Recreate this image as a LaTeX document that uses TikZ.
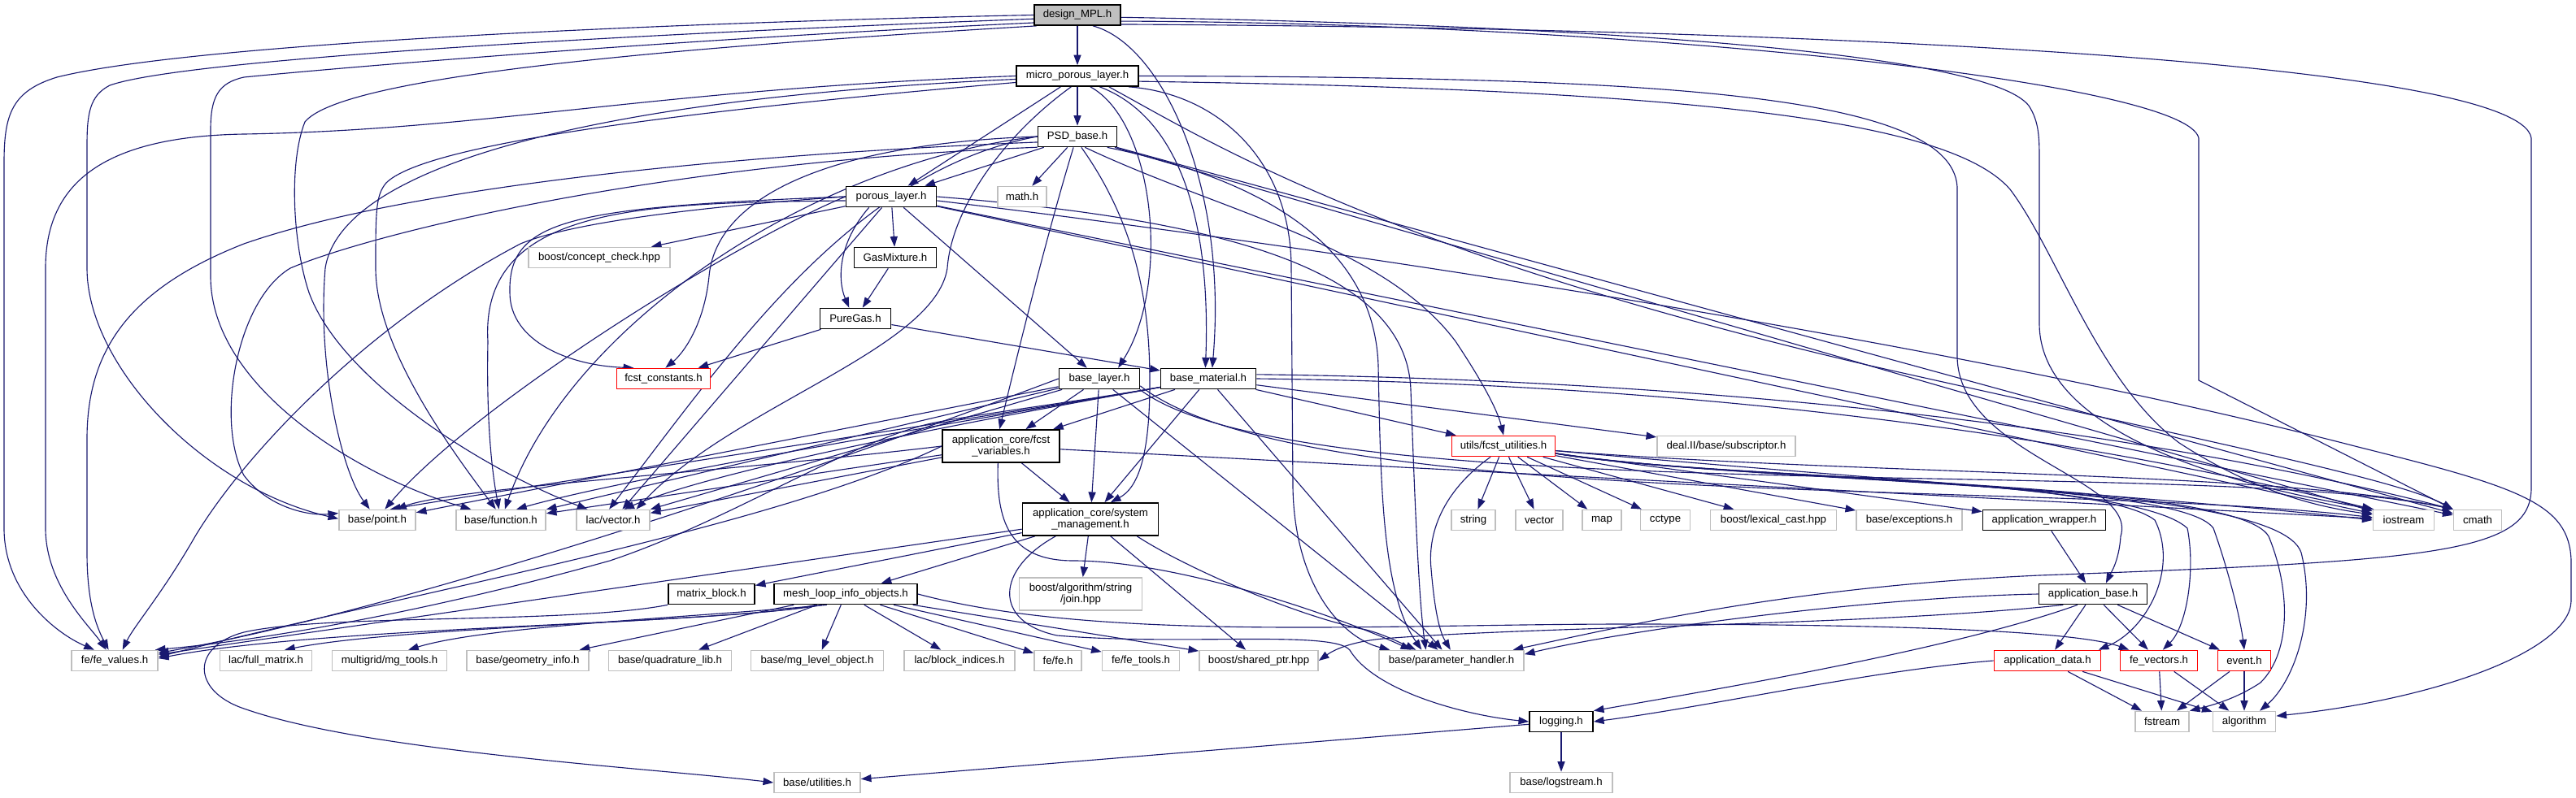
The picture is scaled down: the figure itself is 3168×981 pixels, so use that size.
\documentclass[tikz,border=0pt]{standalone}
\usepackage{fontspec}
\setmainfont{Liberation Sans}
\usetikzlibrary{arrows.meta}
\definecolor{edgec}{HTML}{191970}
\definecolor{grayb}{HTML}{BFBFBF}
\definecolor{redb}{HTML}{FF0000}
\pgfdeclarelayer{bglayer}
\pgfdeclarelayer{edgelayer}
\pgfsetlayers{bglayer,edgelayer,main}
\begin{document}
\begin{tikzpicture}[x=0.025cm,y=-0.025cm,
  box/.style={draw, line width=1.2pt, fill=white, inner sep=0pt, minimum height=0.625cm, font=\fontsize{9.4}{10.5}\selectfont, align=center},
  nb/.style={box, draw=black},
  ng/.style={box, draw=grayb},
  nr/.style={box, draw=redb},
  wd/.style={minimum width=#1*0.025cm},
  tall/.style={minimum height=1cm},
  edg/.style={draw=edgec, line width=0.8pt, -{Triangle[length=9pt,width=6.5pt]}},
]
\useasboundingbox (0,0) rectangle (3168,981);
\begin{pgfonlayer}{bglayer}
\fill[white] (0,0) rectangle (3168,981);
\end{pgfonlayer}

% ---------- nodes ----------
\node[nb,fill=grayb,wd=106] (dm) at (1325,18.5) {design\_MPL.h};
\node[nb,wd=150] (mpl) at (1325,93.5) {micro\_porous\_layer.h};
\node[nb,wd=97] (psd) at (1325,168) {PSD\_base.h};
\node[nb,wd=111] (pl) at (1096,242) {porous\_layer.h};
\node[ng,wd=60] (mathh) at (1257,242) {math.h};
\node[ng,wd=174] (cc) at (737,317) {boost/concept\_check.hpp};
\node[nb,wd=101] (gm) at (1101,317) {GasMixture.h};
\node[nb,wd=87] (pg) at (1052,392) {PureGas.h};
\node[nr,wd=115] (fc) at (816,466) {fcst\_constants.h};
\node[nb,wd=99] (bl) at (1352,466) {base\_layer.h};
\node[nb,wd=117] (bm) at (1486,466) {base\_material.h};
\node[nb,wd=144,tall] (fv) at (1231,549) {application\_core/fcst\\\_variables.h};
\node[nr,wd=127] (fu) at (1849,549) {utils/fcst\_utilities.h};
\node[ng,wd=170] (sub) at (2123,549) {deal.II/base/subscriptor.h};
\node[ng,wd=94] (pnt) at (464,640) {base/point.h};
\node[ng,wd=110] (fn) at (616,640) {base/function.h};
\node[ng,wd=90] (vec) at (754,640) {lac/vector.h};
\node[nb,wd=167,tall] (sm) at (1341,639) {application\_core/system\\\_management.h};
\node[ng,wd=54] (str) at (1812,640) {string};
\node[ng,wd=58] (vct) at (1893,640) {vector};
\node[ng,wd=48] (mapn) at (1970,640) {map};
\node[ng,wd=61] (cct) at (2048,640) {cctype};
\node[ng,wd=155] (lex) at (2181,640) {boost/lexical\_cast.hpp};
\node[ng,wd=130] (exc) at (2348,640) {base/exceptions.h};
\node[nb,wd=151] (aw) at (2514,640) {application\_wrapper.h};
\node[ng,wd=75] (ios) at (2956,640) {iostream};
\node[ng,wd=59] (cmathn) at (3047,640) {cmath};
\node[nb,wd=106] (mb) at (875,731) {matrix\_block.h};
\node[nb,wd=176] (ml) at (1040,731) {mesh\_loop\_info\_objects.h};
\node[ng,wd=151,tall] (join) at (1329,731) {boost/algorithm/string\\/join.hpp};
\node[nb,wd=133] (ab) at (2574,731) {application\_base.h};
\node[ng,wd=106] (fev) at (141,813) {fe/fe\_values.h};
\node[ng,wd=113] (fm) at (327,813) {lac/full\_matrix.h};
\node[ng,wd=141] (mgt) at (479,813) {multigrid/mg\_tools.h};
\node[ng,wd=150] (geo) at (649,813) {base/geometry\_info.h};
\node[ng,wd=151] (quad) at (824,813) {base/quadrature\_lib.h};
\node[ng,wd=163] (mgl) at (1005,813) {base/mg\_level\_object.h};
\node[ng,wd=136] (bi) at (1180,813) {lac/block\_indices.h};
\node[ng,wd=58] (fe) at (1301,813) {fe/fe.h};
\node[ng,wd=95] (fet) at (1403,813) {fe/fe\_tools.h};
\node[ng,wd=146] (sp) at (1548,813) {boost/shared\_ptr.hpp};
\node[ng,wd=178] (ph) at (1785,813) {base/parameter\_handler.h};
\node[nr,wd=131] (ad) at (2518,813) {application\_data.h};
\node[nr,wd=95] (fvec) at (2655,813) {fe\_vectors.h};
\node[nr,wd=65] (ev) at (2760,813) {event.h};
\node[nb,wd=78] (logg) at (1920,888) {logging.h};
\node[ng,wd=66] (fs) at (2659,888) {fstream};
\node[ng,wd=77] (alg) at (2760,888) {algorithm};
\node[ng,wd=106] (ut) at (1005,963) {base/utilities.h};
\node[ng,wd=126] (ls) at (1920,963) {base/logstream.h};

% ---------- edges ----------
\begin{pgfonlayer}{edgelayer}
% design_MPL.h
\draw[edg] (dm) -- (mpl);
\draw[edg] (dm.-35) .. controls (1430,55) and (1510,230) .. (bm.70);
\draw[edg] (dm.west) .. controls (900,26) and (250,50) .. (70,95) .. controls (15,112) and (5,140) .. (5,200) -- (5,650) .. controls (5,730) and (70,780) .. (fev.152);
\draw[edg] (dm.185) .. controls (700,45) and (220,75) .. (135,105) .. controls (110,118) and (107,140) .. (107,180) -- (107,330) .. controls (107,450) and (250,600) .. (pnt.178);
\draw[edg] (dm.190) .. controls (800,50) and (400,85) .. (300,95) .. controls (268,102) and (259,120) .. (259,160) -- (259,340) .. controls (259,480) and (450,590) .. (fn.160);
\draw[edg] (dm.195) .. controls (800,60) and (420,95) .. (375,150) .. controls (355,200) and (360,300) .. (380,360) .. controls (420,470) and (600,580) .. (vec.157);
\draw[edg] (dm.-3) .. controls (1900,30) and (2440,60) .. (2495,130) .. controls (2508,150) and (2508,170) .. (2508,200) -- (2508,400) .. controls (2510,520) and (2700,590) .. (ios.160);
\draw[edg] (dm.-8) .. controls (2000,28) and (2690,100) .. (2704,170) -- (2704,468) -- (cmathn.north west);
\draw[edg] (dm.-12) .. controls (2300,35) and (3100,80) .. (3113,170) -- (3113,600) .. controls (3113,680) and (3000,690) .. (2508,708) .. controls (2200,722) and (2000,770) .. (ph.10);
% micro_porous_layer.h
\draw[edg] (mpl) -- (psd);
\draw[edg] (mpl) -- (pl);
\draw[edg] (mpl.-40) .. controls (1420,150) and (1440,350) .. (bl.30);
\draw[edg] (mpl.-26) .. controls (1440,140) and (1490,250) .. (bm.105);
\draw[edg] (mpl.west) .. controls (800,110) and (600,160) .. (300,165) .. controls (120,168) and (56,230) .. (56,330) -- (56,650) .. controls (56,720) and (110,770) .. (fev.128);
\draw[edg] (mpl.183) .. controls (750,120) and (420,200) .. (400,330) .. controls (390,450) and (420,580) .. (pnt.125);
\draw[edg] (mpl.186) .. controls (800,140) and (520,180) .. (475,225) .. controls (462,240) and (462,260) .. (462,330) .. controls (462,430) and (560,560) .. (fn.115);
\draw[edg] (mpl.240) .. controls (1230,170) and (1170,260) .. (1165,330) .. controls (1150,430) and (900,500) .. (vec.25);
\draw[edg] (mpl.east) .. controls (2000,95) and (2400,110) .. (2407,230) -- (2407,440) .. controls (2410,560) and (2630,590) .. (2608,660) .. controls (2606,690) and (2596,705) .. (ab.40);
\draw[edg] (mpl.-5) .. controls (2100,110) and (2400,150) .. (2472,233) .. controls (2530,310) and (2580,470) .. (2680,545) .. controls (2780,610) and (2860,625) .. (ios.170);
\draw[edg] (mpl.-19) .. controls (1480,170) and (1700,310) .. (2300,450) .. controls (2700,540) and (2950,590) .. (cmathn.north west);
\draw[edg] (mpl.-12) .. controls (1500,115) and (1588,200) .. (1588,330) -- (1590,600) .. controls (1592,720) and (1650,785) .. (ph.170);
% PSD_base.h
\draw[edg] (psd) -- (pl);
\draw[edg] (psd) -- (mathh);
\draw[edg] (psd.west) .. controls (1000,178) and (880,250) .. (872,340) .. controls (866,400) and (840,435) .. (fc.80);
\draw[edg] (psd.-55) .. controls (1500,260) and (1700,300) .. (1790,420) .. controls (1830,480) and (1843,510) .. (fu.north);
\draw[edg] (psd.250) .. controls (1290,280) and (1255,420) .. (fv.95);
\draw[edg] (psd.-70) .. controls (1400,280) and (1414,380) .. (1414,470) .. controls (1414,560) and (1400,600) .. (sm.40);
\draw[edg] (psd.-20) .. controls (1550,220) and (1690,300) .. (1695,450) .. controls (1698,600) and (1700,730) .. (ph.160);
\draw[edg] (psd.188) .. controls (900,190) and (500,230) .. (300,300) .. controls (160,355) and (107,430) .. (107,540) -- (107,680) .. controls (107,740) and (118,770) .. (fev.119);
\draw[edg] (psd.195) .. controls (800,200) and (450,290) .. (357,330) .. controls (290,370) and (265,520) .. (300,585) .. controls (330,625) and (380,635) .. (pnt.170);
\draw[edg] (psd.west) .. controls (1000,200) and (700,400) .. (fn.70);
\draw[edg] (psd.west) .. controls (1050,210) and (900,430) .. (vec.110);
\draw[edg] (psd) -- (ios);
\draw[edg] (psd) -- (cmathn);
% porous_layer.h
\draw[edg] (pl) -- (gm);
\draw[edg] (pl.206) .. controls (1030,300) and (1030,345) .. (pg.120);
\draw[edg] (pl) -- (bl);
\draw[edg] (pl) -- (cc);
\draw[edg] (pl.west) .. controls (700,255) and (625,270) .. (627,360) .. controls (627,420) and (700,450) .. (fc.160);
\draw[edg] (pl.185) .. controls (800,250) and (590,250) .. (600,420) .. controls (598,520) and (605,580) .. (fn.100);
\draw[edg] (pl.west) .. controls (900,300) and (580,500) .. (pnt.55);
\draw[edg] (pl) -- (vec);
\draw[edg] (pl.west) .. controls (850,255) and (700,275) .. (640,300) .. controls (450,400) and (300,560) .. (240,660) .. controls (200,730) and (165,770) .. (fev.54);
\draw[edg] (pl) -- (ios);
\draw[edg] (pl) -- (cmathn);
\draw[edg] (pl.east) .. controls (1500,270) and (1730,330) .. (1735,480) .. controls (1740,620) and (1745,740) .. (ph.157);
\draw[edg] (pl.-5) .. controls (1600,300) and (2400,420) .. (2900,550) .. controls (3100,600) and (3160,620) .. (3162,690) -- (3162,740) .. controls (3160,800) and (3000,860) .. (alg.10);
% GasMixture.h, PureGas.h
\draw[edg] (gm) -- (pg);
\draw[edg] (pg) -- (fc);
\draw[edg] (pg) -- (bm);
% base_layer.h
\draw[edg] (bl) -- (fv);
\draw[edg] (bl) -- (sm);
\draw[edg] (bl) -- (pnt);
\draw[edg] (bl) -- (fn);
\draw[edg] (bl) -- (vec);
\draw[edg] (bl.west) .. controls (1000,580) and (500,750) .. (fev.10);
\draw[edg] (bl) -- (ph);
\draw[edg] (bl.-10) .. controls (1600,630) and (2500,590) .. (ios.175);
\draw[edg] (bl.-15) .. controls (1600,630) and (2700,560) .. (cmathn.north west);
% base_material.h
\draw[edg] (bm) -- (fv);
\draw[edg] (bm) -- (sm);
\draw[edg] (bm) -- (fu);
\draw[edg] (bm) -- (sub);
\draw[edg] (bm) -- (ph);
\draw[edg] (bm.190) .. controls (1300,500) and (700,590) .. (pnt.40);
\draw[edg] (bm.190) .. controls (1300,500) and (800,580) .. (fn.35);
\draw[edg] (bm.190) .. controls (1300,500) and (900,570) .. (vec.45);
\draw[edg] (bm.190) .. controls (1320,495) and (1200,510) .. (1150,520) .. controls (1050,540) and (900,640) .. (750,690) .. controls (500,760) and (300,790) .. (fev.15);
\draw[edg] (bm.east) .. controls (1900,470) and (2400,500) .. (ios.north west);
\draw[edg] (bm.5) .. controls (1900,465) and (2500,495) .. (cmathn.north west);
% fcst_variables.h
\draw[edg] (fv) -- (sm);
\draw[edg] (fv.west) .. controls (900,580) and (560,600) .. (pnt.30);
\draw[edg] (fv) -- (fn);
\draw[edg] (fv) -- (vec);
\draw[edg] (fv.west) .. controls (950,650) and (500,730) .. (fev.5);
\draw[edg] (fv) -- (ios);
\draw[edg] (fv.-100) .. controls (1225,640) and (1240,690) .. (1320,690) .. controls (1450,690) and (1650,760) .. (ph.165);
% system_management.h
\draw[edg] (sm) -- (mb);
\draw[edg] (sm) -- (ml);
\draw[edg] (sm) -- (join);
\draw[edg] (sm) -- (sp);
\draw[edg] (sm) -- (fev);
\draw[edg] (sm.-154) .. controls (1225,700) and (1220,765) .. (1300,782) .. controls (1450,795) and (1640,775) .. (1660,800) .. controls (1690,850) and (1800,880) .. (logg.west);
\draw[edg] (sm.-20) .. controls (1460,700) and (1600,760) .. (1680,775) .. controls (1700,780) and (1720,790) .. (ph.163);
% mesh_loop_info_objects.h
\draw[edg] (ml.200) .. controls (900,768) and (400,770) .. (fev.3);
\draw[edg] (ml.205) .. controls (900,765) and (500,770) .. (fm.30);
\draw[edg] (ml.210) .. controls (850,760) and (600,770) .. (mgt.30);
\draw[edg] (ml) -- (geo);
\draw[edg] (ml) -- (quad);
\draw[edg] (ml) -- (mgl);
\draw[edg] (ml) -- (bi);
\draw[edg] (ml) -- (fe);
\draw[edg] (ml) -- (fet);
\draw[edg] (ml) -- (sp);
\draw[edg] (ml.east) .. controls (1350,790) and (1700,768) .. (2000,768) .. controls (2300,768) and (2550,775) .. (fvec.160);
% matrix_block.h
\draw[edg] (mb.south west) .. controls (700,768) and (400,755) .. (300,778) .. controls (235,795) and (235,850) .. (300,872) .. controls (450,925) and (800,945) .. (ut.west);
% fcst_utilities.h
\draw[edg] (fu) -- (str);
\draw[edg] (fu) -- (vct);
\draw[edg] (fu) -- (mapn);
\draw[edg] (fu) -- (cct);
\draw[edg] (fu) -- (lex);
\draw[edg] (fu) -- (exc);
\draw[edg] (fu) -- (aw);
\draw[edg] (fu.-5) .. controls (2300,590) and (2700,615) .. (ios.west);
\draw[edg] (fu.-5) .. controls (2300,585) and (2800,580) .. (cmathn.north west);
\draw[edg] (fu.220) .. controls (1780,600) and (1755,650) .. (1760,700) .. controls (1765,760) and (1772,780) .. (ph.95);
\draw[edg] (fu.-8) .. controls (2100,590) and (2580,585) .. (2650,640) .. controls (2680,700) and (2640,775) .. (ad.12);
\draw[edg] (fu.-8) .. controls (2100,590) and (2620,585) .. (2690,650) .. controls (2700,700) and (2690,770) .. (fvec.70);
\draw[edg] (fu.-8) .. controls (2150,595) and (2680,590) .. (2722,650) .. controls (2740,700) and (2755,760) .. (ev.north);
\draw[edg] (fu.-8) .. controls (2150,595) and (2750,590) .. (2790,660) .. controls (2815,720) and (2820,800) .. (2780,840) .. controls (2750,860) and (2720,868) .. (fs.north east);
\draw[edg] (fu.-8) .. controls (2200,600) and (2800,590) .. (2830,680) .. controls (2850,760) and (2820,840) .. (alg.35);
% application_wrapper.h, application_base.h
\draw[edg] (aw) -- (ab);
\draw[edg] (ab) -- (ad);
\draw[edg] (ab) -- (fvec);
\draw[edg] (ab) -- (ev);
\draw[edg] (ab.west) .. controls (2300,735) and (2000,775) .. (ph.5);
\draw[edg] (ab.200) .. controls (2300,770) and (1900,770) .. (1700,786) .. controls (1660,790) and (1640,800) .. (sp.east);
\draw[edg] (ab.215) .. controls (2400,800) and (2100,850) .. (logg.north east);
% application_data.h, fe_vectors.h, event.h
\draw[edg] (ad.west) .. controls (2300,825) and (2100,870) .. (logg.east);
\draw[edg] (ad) -- (fs);
\draw[edg] (ad) -- (alg);
\draw[edg] (fvec) -- (fs);
\draw[edg] (fvec) -- (alg);
\draw[edg] (ev) -- (fs);
\draw[edg] (ev) -- (alg);
% logging.h
\draw[edg] (logg) -- (ut);
\draw[edg] (logg) -- (ls);
\end{pgfonlayer}
\end{tikzpicture}
\end{document}
